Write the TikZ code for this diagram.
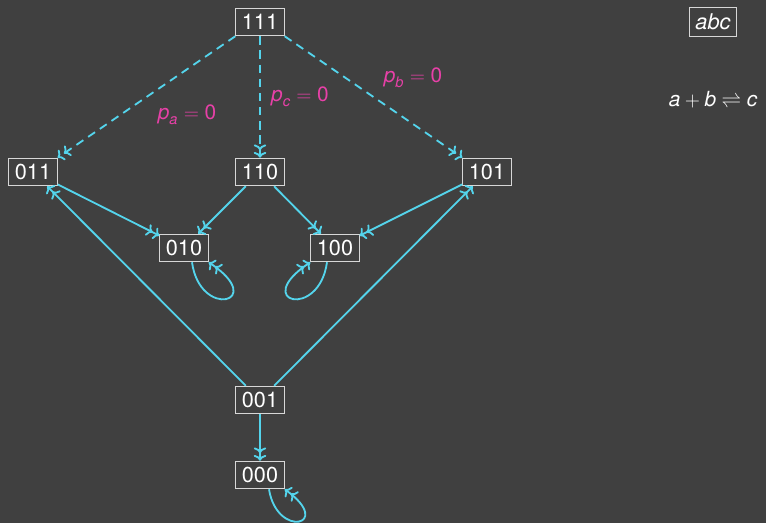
\documentclass[tikz,border=0pt]{standalone}
\usepackage{amsmath}
\usepackage{fontspec}
\setmainfont{TeX Gyre Heros}
\usetikzlibrary{arrows.meta}
\definecolor{bgc}{RGB}{64,64,64}
\definecolor{edgec}{RGB}{84,212,236}
\definecolor{labc}{RGB}{232,64,168}
\definecolor{boxc}{RGB}{215,215,215}
\begin{document}
\begin{tikzpicture}[x=0.6pt,y=-0.6pt,
  state/.style={draw=boxc,line width=0.6pt,text=white,minimum width=29pt,minimum height=16.5pt,inner sep=1pt,font=\fontsize{13}{15}\selectfont},
  arr/.style={draw=edgec,line width=1.1pt,-{To[length=3.5pt,width=7.5pt,sep=1pt]To[length=3.5pt,width=7.5pt]}},
  dsh/.style={arr,dashed,dash pattern=on 5pt off 3.5pt},
  lab/.style={text=labc,font=\fontsize{12.5}{14}\selectfont},
  txt/.style={text=white,font=\fontsize{12.5}{14}\selectfont}]
\fill[bgc] (0,0) rectangle (766,523);
\useasboundingbox (0,0) rectangle (766,523);
\node[state] (n111) at (260,22) {111};
\node[state] (n011) at (33,172) {011};
\node[state] (n110) at (260,172) {110};
\node[state] (n101) at (487,172) {101};
\node[state] (n010) at (184,248) {010};
\node[state] (n100) at (335,248) {100};
\node[state] (n001) at (260,400) {001};
\node[state] (n000) at (260,475) {000};
\node[state,minimum width=28pt,minimum height=17pt] (abc) at (713,22) {\textit{abc}};
\node[txt] (reac) at (713,100) {$\textit{a}+\textit{b}\rightleftharpoons\textit{c}$};
\node[lab] (la) at (187,115) {$\textit{p}_{\textit{a}}=\text{0}$};
\node[lab] (lc) at (300,97) {$\textit{p}_{\textit{c}}=\text{0}$};
\node[lab] (lb) at (413,78) {$\textit{p}_{\textit{b}}=\text{0}$};
\draw[dsh] (n111.south west) -- (n011.north east);
\draw[dsh] (n111) -- (n110);
\draw[dsh] (n111.south east) -- (n101.north west);
\draw[arr] (n110) -- (n010);
\draw[arr] (n110) -- (n100);
\draw[arr] (n011) -- (n010);
\draw[arr] (n101) -- (n100);
\draw[arr] (n001) -- (n011);
\draw[arr] (n001) -- (n101);
\draw[arr] (n001) -- (n000);
\draw[arr] (n010.south -| 192,0) .. controls +(8,58) and +(60,40) .. (n010.south east);
\draw[arr] (n100.south -| 327,0) .. controls +(-8,58) and +(-60,40) .. (n100.south west);
\draw[arr] (n000.south -| 269,0) .. controls +(8,50) and +(50,36) .. (n000.south east);
\end{tikzpicture}
\end{document}
